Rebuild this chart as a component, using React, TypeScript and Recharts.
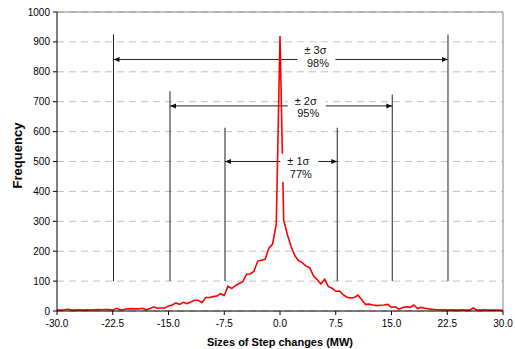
import {
  LineChart,
  Line,
  XAxis,
  YAxis,
  CartesianGrid,
  ReferenceLine,
  ReferenceDot,
} from 'recharts';

// step size bins (MW)
const stepSizes = [
  -30, -29.5, -29, -28.5, -28, -27.5, -27, -26.5, -26, -25.5,
  -25, -24.5, -24, -23.5, -23, -22.5, -22, -21.5, -21, -20.5,
  -20, -19.5, -19, -18.5, -18, -17.5, -17, -16.5, -16, -15.5,
  -15, -14.5, -14, -13.5, -13, -12.5, -12, -11.5, -11, -10.5,
  -10, -9.5, -9, -8.5, -8, -7.5, -7, -6.5, -6, -5.5,
  -5, -4.5, -4, -3.5, -3, -2.5, -2, -1.5, -1, -0.5,
  0,
  0.5, 1, 1.5, 2, 2.5, 3, 3.5, 4, 4.5, 5,
  5.5, 6, 6.5, 7, 7.5, 8, 8.5, 9, 9.5, 10,
  10.5, 11, 11.5, 12, 12.5, 13, 13.5, 14, 14.5, 15,
  15.5, 16, 16.5, 17, 17.5, 18, 18.5, 19, 19.5, 20,
  20.5, 21, 21.5, 22, 22.5, 23, 23.5, 24, 24.5, 25,
  25.5, 26, 26.5, 27, 27.5, 28, 28.5, 29, 29.5, 30,
];

const frequency = [
  3, 3, 4, 6, 3, 3, 4, 3, 4, 3,
  4, 5, 4, 5, 5, 3, 9, 4, 5, 7,
  8, 7, 7, 9, 4, 8, 14, 9, 10, 10,
  17, 20, 27, 22, 29, 25, 30, 36, 36, 28,
  45, 45, 48, 50, 58, 52, 83, 75, 85, 92,
  98, 123, 124, 133, 167, 170, 173, 210, 224, 291,
  920,
  304, 255, 215, 185, 168, 162, 150, 145, 118, 105,
  90, 106, 82, 76, 66, 67, 55, 46, 44, 45,
  53, 38, 22, 23, 20, 18, 19, 20, 22, 12,
  14, 6, 12, 14, 12, 20, 8, 12, 9, 7,
  6, 4, 4, 4, 3, 4, 3, 3, 4, 3,
  3, 10, 3, 3, 4, 3, 3, 3, 3, 2,
];

const xTicks = [-30, -22.5, -15, -7.5, 0, 7.5, 15, 22.5, 30];
const yTicks = [0, 100, 200, 300, 400, 500, 600, 700, 800, 900, 1000];

// sigma bands: 3, 2, 1
const sigmaText = ['± 3σ', '± 2σ', '± 1σ'];
const coverageText = ['98%', '95%', '77%'];
const bandLeft = [-22.4, -14.8, -7.4];
const bandRight = [22.6, 15.1, 7.7];
const topLeft = [925, 735, 613];
const topRight = [925, 724, 613];
const bandBottom = 100;
const arrowLevel = [841, 686, 500];
const labelX = [4.9, 3.6, 2.6];
const labelY = [851, 682, 479];

const data = stepSizes.map((x, i) => ({ x, freq: frequency[i] }));

const FONT = '"Liberation Sans", Arial, sans-serif';

const ArrowShape = (props: any) => {
  const { x1, x2, y1 } = props;
  const l = Math.min(x1, x2);
  const r = Math.max(x1, x2);
  return (
    <g>
      <line x1={l} y1={y1} x2={r} y2={y1} stroke="#222" strokeWidth={1} />
      <polygon points={`${l},${y1} ${l + 6},${y1 - 2.5} ${l + 6},${y1 + 2.5}`} fill="#111" />
      <polygon points={`${r},${y1} ${r - 6},${y1 - 2.5} ${r - 6},${y1 + 2.5}`} fill="#111" />
    </g>
  );
};

const makeLabel = (i: number) => (props: any) => {
  const { cx, cy } = props;
  return (
    <g>
      <rect x={cx - 19} y={cy - 14} width={38} height={28} fill="#fff" />
      <text x={cx - 1} y={cy - 6.3} textAnchor="middle" dominantBaseline="central"
        fontFamily={FONT} fontSize={11} fill="#111">{sigmaText[i]}</text>
      <text x={cx + 1.5} y={cy + 6.3} textAnchor="middle" dominantBaseline="central"
        fontFamily={FONT} fontSize={11} fill="#111">{coverageText[i]}</text>
    </g>
  );
};

const FrequencyLabel = (props: any) => {
  const { viewBox } = props;
  const x = viewBox.x + 17.5;
  const y = viewBox.y + viewBox.height / 2 - 6;
  return (
    <text x={x} y={y} transform={`rotate(-90, ${x}, ${y})`} textAnchor="middle"
      dominantBaseline="central" fontFamily={FONT} fontSize={13} fontWeight="bold" fill="#000">
      Frequency
    </text>
  );
};

export default function App() {
  return (
    <div style={{ position: 'absolute', left: 0, top: 0, width: 515, height: 349, background: '#fff' }}>
      <LineChart width={515} height={349} data={data}
        margin={{ top: 12, right: 12, left: 0, bottom: 0 }}>
        <CartesianGrid vertical={false} stroke="#c0c0c0" strokeDasharray="7 5" />
        <XAxis
          type="number"
          dataKey="x"
          domain={[-30, 30]}
          ticks={xTicks}
          tickFormatter={(v: number) => v.toFixed(1)}
          height={38}
          stroke="#000"
          tickSize={4}
          tickMargin={5}
          tick={{ fontSize: 10, fontFamily: FONT, fill: '#000' }}
          label={{ value: 'Sizes of Step changes (MW)', position: 'insideBottom', offset: 3,
            style: { fontSize: 11, fontWeight: 'bold', fontFamily: FONT, fill: '#000' } }}
        />
        <YAxis
          type="number"
          domain={[0, 1000]}
          ticks={yTicks}
          width={57}
          stroke="#000"
          tickSize={4}
          tickMargin={3}
          tick={{ fontSize: 10, fontFamily: FONT, fill: '#000' }}
          label={{ content: FrequencyLabel }}
        />
        <ReferenceLine y={1000} stroke="#888" />
        <ReferenceLine x={30} stroke="#888" />
        {bandLeft.map((v, i) => (
          <ReferenceLine key={'l' + i} segment={[{ x: v, y: bandBottom }, { x: v, y: topLeft[i] }]}
            stroke="#222" />
        ))}
        {bandRight.map((v, i) => (
          <ReferenceLine key={'r' + i} segment={[{ x: v, y: bandBottom }, { x: v, y: topRight[i] }]}
            stroke="#222" />
        ))}
        {arrowLevel.map((lvl, i) => (
          <ReferenceLine key={'a' + i}
            segment={[{ x: bandLeft[i], y: lvl }, { x: bandRight[i], y: lvl }]}
            shape={ArrowShape} />
        ))}
        {labelX.map((lx, i) => (
          <ReferenceDot key={'t' + i} x={lx} y={labelY[i]} r={1} shape={makeLabel(i)} />
        ))}
        <Line type="linear" dataKey="freq" stroke="#ff0000" strokeWidth={1.6}
          dot={false} isAnimationActive={false} />
      </LineChart>
    </div>
  );
}
